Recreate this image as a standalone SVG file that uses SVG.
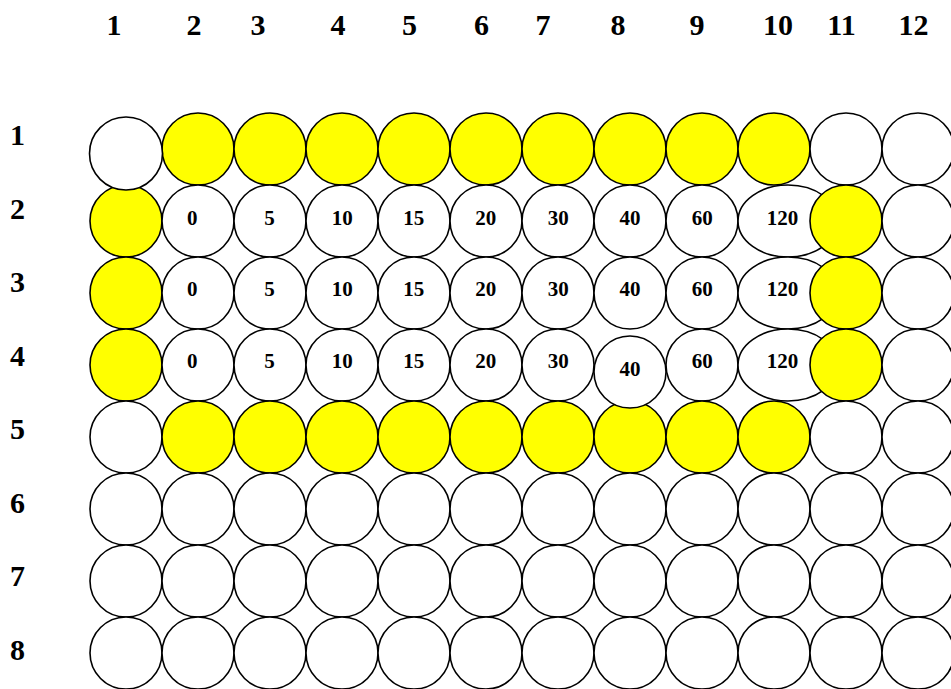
<svg xmlns="http://www.w3.org/2000/svg" width="951" height="689" viewBox="0 0 951 689">
<style>
.w{fill:#ffffff;stroke:#000;stroke-width:1.6}
.y{fill:#ffff00;stroke:#000;stroke-width:1.6}
.h{font-family:"Liberation Serif","Times New Roman",serif;font-weight:bold;font-size:30px;fill:#000;text-anchor:middle}
.t{font-family:"Liberation Serif","Times New Roman",serif;font-weight:bold;font-size:21px;fill:#000;text-anchor:middle}
</style>
<rect width="951" height="689" fill="#ffffff"/>
<g id="col-headers">
<text class="h" x="114" y="35">1</text>
<text class="h" x="194" y="35">2</text>
<text class="h" x="258" y="35">3</text>
<text class="h" x="338" y="35">4</text>
<text class="h" x="409.5" y="35">5</text>
<text class="h" x="481.5" y="35">6</text>
<text class="h" x="543" y="35">7</text>
<text class="h" x="618" y="35">8</text>
<text class="h" x="697" y="35">9</text>
<text class="h" x="778" y="35">10</text>
<text class="h" x="841.5" y="35">11</text>
<text class="h" x="913.5" y="35">12</text>
</g>
<g id="row-headers">
<text class="h" x="17.5" y="145">1</text>
<text class="h" x="17.5" y="218.5">2</text>
<text class="h" x="17.5" y="292">3</text>
<text class="h" x="17.5" y="365.5">4</text>
<text class="h" x="17.5" y="439">5</text>
<text class="h" x="17.5" y="512.5">6</text>
<text class="h" x="17.5" y="586">7</text>
<text class="h" x="17.5" y="659.5">8</text>
</g>
<g id="row1">
<g id="r1c2"><circle class="y" cx="198" cy="149" r="36"/></g>
<g id="r1c3"><circle class="y" cx="270" cy="149" r="36"/></g>
<g id="r1c4"><circle class="y" cx="342" cy="149" r="36"/></g>
<g id="r1c5"><circle class="y" cx="414" cy="149" r="36"/></g>
<g id="r1c6"><circle class="y" cx="486" cy="149" r="36"/></g>
<g id="r1c7"><circle class="y" cx="558" cy="149" r="36"/></g>
<g id="r1c8"><circle class="y" cx="630" cy="149" r="36"/></g>
<g id="r1c9"><circle class="y" cx="702" cy="149" r="36"/></g>
<g id="r1c10"><circle class="y" cx="774" cy="149" r="36"/></g>
<g id="r1c11"><circle class="w" cx="846" cy="149" r="36"/></g>
<g id="r1c12"><circle class="w" cx="918" cy="149" r="36"/></g>
</g>
<g id="row2">
<g id="r2c1"><circle class="y" cx="126" cy="221" r="36"/></g>
<g id="r2c2"><circle class="w" cx="198" cy="221" r="36"/><text class="t" x="192.3" y="224.5">0</text></g>
<g id="r2c3"><circle class="w" cx="270" cy="221" r="36"/><text class="t" x="269.5" y="224.5">5</text></g>
<g id="r2c4"><circle class="w" cx="342" cy="221" r="36"/><text class="t" x="342.2" y="224.5">10</text></g>
<g id="r2c5"><circle class="w" cx="414" cy="221" r="36"/><text class="t" x="413.7" y="224.5">15</text></g>
<g id="r2c6"><circle class="w" cx="486" cy="221" r="36"/><text class="t" x="485.8" y="224.5">20</text></g>
<g id="r2c7"><circle class="w" cx="558" cy="221" r="36"/><text class="t" x="558.2" y="224.5">30</text></g>
<g id="r2c8"><circle class="w" cx="630" cy="221" r="36"/><text class="t" x="630" y="224.5">40</text></g>
<g id="r2c9"><circle class="w" cx="702" cy="221" r="36"/><text class="t" x="702.2" y="224.5">60</text></g>
<g id="r2c10"><ellipse class="w" cx="788" cy="221" rx="50" ry="36"/><text class="t" x="782.5" y="224.5">120</text></g>
<g id="r2c11"><circle class="y" cx="846" cy="221" r="36"/></g>
<g id="r2c12"><circle class="w" cx="918" cy="221" r="36"/></g>
</g>
<g id="row3">
<g id="r3c1"><circle class="y" cx="126" cy="293" r="36"/></g>
<g id="r3c2"><circle class="w" cx="198" cy="293" r="36"/><text class="t" x="192.3" y="296.3">0</text></g>
<g id="r3c3"><circle class="w" cx="270" cy="293" r="36"/><text class="t" x="269.5" y="296.3">5</text></g>
<g id="r3c4"><circle class="w" cx="342" cy="293" r="36"/><text class="t" x="342.2" y="296.3">10</text></g>
<g id="r3c5"><circle class="w" cx="414" cy="293" r="36"/><text class="t" x="413.7" y="296.3">15</text></g>
<g id="r3c6"><circle class="w" cx="486" cy="293" r="36"/><text class="t" x="485.8" y="296.3">20</text></g>
<g id="r3c7"><circle class="w" cx="558" cy="293" r="36"/><text class="t" x="558.2" y="296.3">30</text></g>
<g id="r3c8"><circle class="w" cx="630" cy="293" r="36"/><text class="t" x="630" y="296.3">40</text></g>
<g id="r3c9"><circle class="w" cx="702" cy="293" r="36"/><text class="t" x="702.2" y="296.3">60</text></g>
<g id="r3c10"><ellipse class="w" cx="788" cy="293" rx="50" ry="36"/><text class="t" x="782.5" y="296.3">120</text></g>
<g id="r3c11"><circle class="y" cx="846" cy="293" r="36"/></g>
<g id="r3c12"><circle class="w" cx="918" cy="293" r="36"/></g>
</g>
<g id="row4">
<g id="r4c1"><circle class="y" cx="126" cy="365" r="36"/></g>
<g id="r4c2"><circle class="w" cx="198" cy="365" r="36"/><text class="t" x="192.3" y="368.3">0</text></g>
<g id="r4c3"><circle class="w" cx="270" cy="365" r="36"/><text class="t" x="269.5" y="368.3">5</text></g>
<g id="r4c4"><circle class="w" cx="342" cy="365" r="36"/><text class="t" x="342.2" y="368.3">10</text></g>
<g id="r4c5"><circle class="w" cx="414" cy="365" r="36"/><text class="t" x="413.7" y="368.3">15</text></g>
<g id="r4c6"><circle class="w" cx="486" cy="365" r="36"/><text class="t" x="485.8" y="368.3">20</text></g>
<g id="r4c7"><circle class="w" cx="558" cy="365" r="36"/><text class="t" x="558.2" y="368.3">30</text></g>
<g id="r4c9"><circle class="w" cx="702" cy="365" r="36"/><text class="t" x="702.2" y="368.3">60</text></g>
<g id="r4c10"><ellipse class="w" cx="788" cy="365" rx="50" ry="36"/><text class="t" x="782.5" y="368.3">120</text></g>
<g id="r4c11"><circle class="y" cx="846" cy="365" r="36"/></g>
<g id="r4c12"><circle class="w" cx="918" cy="365" r="36"/></g>
</g>
<g id="row5">
<g id="r5c1"><circle class="w" cx="126" cy="437" r="36"/></g>
<g id="r5c2"><circle class="y" cx="198" cy="437" r="36"/></g>
<g id="r5c3"><circle class="y" cx="270" cy="437" r="36"/></g>
<g id="r5c4"><circle class="y" cx="342" cy="437" r="36"/></g>
<g id="r5c5"><circle class="y" cx="414" cy="437" r="36"/></g>
<g id="r5c6"><circle class="y" cx="486" cy="437" r="36"/></g>
<g id="r5c7"><circle class="y" cx="558" cy="437" r="36"/></g>
<g id="r5c8"><circle class="y" cx="630" cy="437" r="36"/></g>
<g id="r5c9"><circle class="y" cx="702" cy="437" r="36"/></g>
<g id="r5c10"><circle class="y" cx="774" cy="437" r="36"/></g>
<g id="r5c11"><circle class="w" cx="846" cy="437" r="36"/></g>
<g id="r5c12"><circle class="w" cx="918" cy="437" r="36"/></g>
</g>
<g id="row6">
<g id="r6c1"><circle class="w" cx="126" cy="509" r="36"/></g>
<g id="r6c2"><circle class="w" cx="198" cy="509" r="36"/></g>
<g id="r6c3"><circle class="w" cx="270" cy="509" r="36"/></g>
<g id="r6c4"><circle class="w" cx="342" cy="509" r="36"/></g>
<g id="r6c5"><circle class="w" cx="414" cy="509" r="36"/></g>
<g id="r6c6"><circle class="w" cx="486" cy="509" r="36"/></g>
<g id="r6c7"><circle class="w" cx="558" cy="509" r="36"/></g>
<g id="r6c8"><circle class="w" cx="630" cy="509" r="36"/></g>
<g id="r6c9"><circle class="w" cx="702" cy="509" r="36"/></g>
<g id="r6c10"><circle class="w" cx="774" cy="509" r="36"/></g>
<g id="r6c11"><circle class="w" cx="846" cy="509" r="36"/></g>
<g id="r6c12"><circle class="w" cx="918" cy="509" r="36"/></g>
</g>
<g id="row7">
<g id="r7c1"><circle class="w" cx="126" cy="581" r="36"/></g>
<g id="r7c2"><circle class="w" cx="198" cy="581" r="36"/></g>
<g id="r7c3"><circle class="w" cx="270" cy="581" r="36"/></g>
<g id="r7c4"><circle class="w" cx="342" cy="581" r="36"/></g>
<g id="r7c5"><circle class="w" cx="414" cy="581" r="36"/></g>
<g id="r7c6"><circle class="w" cx="486" cy="581" r="36"/></g>
<g id="r7c7"><circle class="w" cx="558" cy="581" r="36"/></g>
<g id="r7c8"><circle class="w" cx="630" cy="581" r="36"/></g>
<g id="r7c9"><circle class="w" cx="702" cy="581" r="36"/></g>
<g id="r7c10"><circle class="w" cx="774" cy="581" r="36"/></g>
<g id="r7c11"><circle class="w" cx="846" cy="581" r="36"/></g>
<g id="r7c12"><circle class="w" cx="918" cy="581" r="36"/></g>
</g>
<g id="row8">
<g id="r8c1"><circle class="w" cx="126" cy="653" r="36"/></g>
<g id="r8c2"><circle class="w" cx="198" cy="653" r="36"/></g>
<g id="r8c3"><circle class="w" cx="270" cy="653" r="36"/></g>
<g id="r8c4"><circle class="w" cx="342" cy="653" r="36"/></g>
<g id="r8c5"><circle class="w" cx="414" cy="653" r="36"/></g>
<g id="r8c6"><circle class="w" cx="486" cy="653" r="36"/></g>
<g id="r8c7"><circle class="w" cx="558" cy="653" r="36"/></g>
<g id="r8c8"><circle class="w" cx="630" cy="653" r="36"/></g>
<g id="r8c9"><circle class="w" cx="702" cy="653" r="36"/></g>
<g id="r8c10"><circle class="w" cx="774" cy="653" r="36"/></g>
<g id="r8c11"><circle class="w" cx="846" cy="653" r="36"/></g>
<g id="r8c12"><circle class="w" cx="918" cy="653" r="36"/></g>
</g>
<g id="r1c1"><circle class="w" cx="126" cy="153.5" r="36.5"/></g>
<g id="r4c8"><circle class="w" cx="630" cy="372" r="36"/><text class="t" x="630" y="376">40</text></g>
<g id="connectors"></g>
</svg>
